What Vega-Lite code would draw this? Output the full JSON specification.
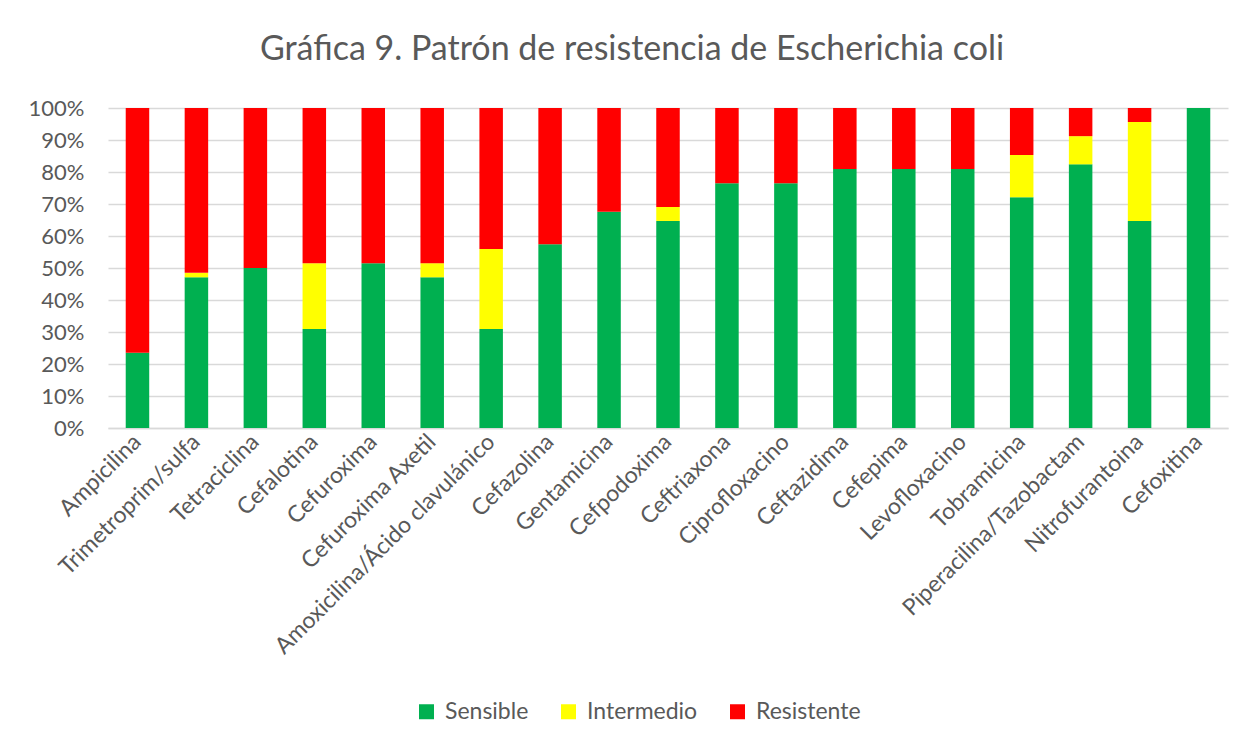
{
  "$schema": "https://vega.github.io/schema/vega-lite/v6.json",
  "autosize": "none",
  "width": 1120,
  "height": 320,
  "padding": {"left": 108, "top": 108, "right": 26, "bottom": 315},
  "background": "white",
  "title": {
    "text": "Gráfica 9. Patrón de resistencia de Escherichia coli",
    "fontSize": 34,
    "font": "Lato",
    "fontWeight": "normal",
    "color": "#595959",
    "offset": 30,
    "dx": -36
  },
  "data": {
    "values": [
      {"antibiotico": "Ampicilina", "resultado": "Sensible", "orden": 1, "pct": 0.235},
      {"antibiotico": "Ampicilina", "resultado": "Resistente", "orden": 3, "pct": 0.765},
      {"antibiotico": "Trimetroprim/sulfa", "resultado": "Sensible", "orden": 1, "pct": 0.471},
      {"antibiotico": "Trimetroprim/sulfa", "resultado": "Intermedio", "orden": 2, "pct": 0.014},
      {"antibiotico": "Trimetroprim/sulfa", "resultado": "Resistente", "orden": 3, "pct": 0.515},
      {"antibiotico": "Tetraciclina", "resultado": "Sensible", "orden": 1, "pct": 0.5},
      {"antibiotico": "Tetraciclina", "resultado": "Resistente", "orden": 3, "pct": 0.5},
      {"antibiotico": "Cefalotina", "resultado": "Sensible", "orden": 1, "pct": 0.309},
      {"antibiotico": "Cefalotina", "resultado": "Intermedio", "orden": 2, "pct": 0.206},
      {"antibiotico": "Cefalotina", "resultado": "Resistente", "orden": 3, "pct": 0.485},
      {"antibiotico": "Cefuroxima", "resultado": "Sensible", "orden": 1, "pct": 0.515},
      {"antibiotico": "Cefuroxima", "resultado": "Resistente", "orden": 3, "pct": 0.485},
      {"antibiotico": "Cefuroxima Axetil", "resultado": "Sensible", "orden": 1, "pct": 0.471},
      {"antibiotico": "Cefuroxima Axetil", "resultado": "Intermedio", "orden": 2, "pct": 0.044},
      {"antibiotico": "Cefuroxima Axetil", "resultado": "Resistente", "orden": 3, "pct": 0.485},
      {"antibiotico": "Amoxicilina/Ácido clavulánico", "resultado": "Sensible", "orden": 1, "pct": 0.309},
      {"antibiotico": "Amoxicilina/Ácido clavulánico", "resultado": "Intermedio", "orden": 2, "pct": 0.25},
      {"antibiotico": "Amoxicilina/Ácido clavulánico", "resultado": "Resistente", "orden": 3, "pct": 0.441},
      {"antibiotico": "Cefazolina", "resultado": "Sensible", "orden": 1, "pct": 0.574},
      {"antibiotico": "Cefazolina", "resultado": "Resistente", "orden": 3, "pct": 0.426},
      {"antibiotico": "Gentamicina", "resultado": "Sensible", "orden": 1, "pct": 0.676},
      {"antibiotico": "Gentamicina", "resultado": "Resistente", "orden": 3, "pct": 0.324},
      {"antibiotico": "Cefpodoxima", "resultado": "Sensible", "orden": 1, "pct": 0.647},
      {"antibiotico": "Cefpodoxima", "resultado": "Intermedio", "orden": 2, "pct": 0.044},
      {"antibiotico": "Cefpodoxima", "resultado": "Resistente", "orden": 3, "pct": 0.309},
      {"antibiotico": "Ceftriaxona", "resultado": "Sensible", "orden": 1, "pct": 0.765},
      {"antibiotico": "Ceftriaxona", "resultado": "Resistente", "orden": 3, "pct": 0.235},
      {"antibiotico": "Ciprofloxacino", "resultado": "Sensible", "orden": 1, "pct": 0.765},
      {"antibiotico": "Ciprofloxacino", "resultado": "Resistente", "orden": 3, "pct": 0.235},
      {"antibiotico": "Ceftazidima", "resultado": "Sensible", "orden": 1, "pct": 0.809},
      {"antibiotico": "Ceftazidima", "resultado": "Resistente", "orden": 3, "pct": 0.191},
      {"antibiotico": "Cefepima", "resultado": "Sensible", "orden": 1, "pct": 0.809},
      {"antibiotico": "Cefepima", "resultado": "Resistente", "orden": 3, "pct": 0.191},
      {"antibiotico": "Levofloxacino", "resultado": "Sensible", "orden": 1, "pct": 0.809},
      {"antibiotico": "Levofloxacino", "resultado": "Resistente", "orden": 3, "pct": 0.191},
      {"antibiotico": "Tobramicina", "resultado": "Sensible", "orden": 1, "pct": 0.721},
      {"antibiotico": "Tobramicina", "resultado": "Intermedio", "orden": 2, "pct": 0.132},
      {"antibiotico": "Tobramicina", "resultado": "Resistente", "orden": 3, "pct": 0.147},
      {"antibiotico": "Piperacilina/Tazobactam", "resultado": "Sensible", "orden": 1, "pct": 0.824},
      {"antibiotico": "Piperacilina/Tazobactam", "resultado": "Intermedio", "orden": 2, "pct": 0.088},
      {"antibiotico": "Piperacilina/Tazobactam", "resultado": "Resistente", "orden": 3, "pct": 0.088},
      {"antibiotico": "Nitrofurantoina", "resultado": "Sensible", "orden": 1, "pct": 0.647},
      {"antibiotico": "Nitrofurantoina", "resultado": "Intermedio", "orden": 2, "pct": 0.309},
      {"antibiotico": "Nitrofurantoina", "resultado": "Resistente", "orden": 3, "pct": 0.044},
      {"antibiotico": "Cefoxitina", "resultado": "Sensible", "orden": 1, "pct": 1.0}
    ]
  },
  "mark": {"type": "bar", "width": 23.5},
  "encoding": {
    "x": {
      "field": "antibiotico",
      "type": "nominal",
      "sort": ["Ampicilina", "Trimetroprim/sulfa", "Tetraciclina", "Cefalotina", "Cefuroxima", "Cefuroxima Axetil", "Amoxicilina/Ácido clavulánico", "Cefazolina", "Gentamicina", "Cefpodoxima", "Ceftriaxona", "Ciprofloxacino", "Ceftazidima", "Cefepima", "Levofloxacino", "Tobramicina", "Piperacilina/Tazobactam", "Nitrofurantoina", "Cefoxitina"],
      "title": null,
      "scale": {"paddingInner": 0.6, "paddingOuter": 0.3},
      "axis": {
        "labelAngle": -45,
        "labelAlign": "right",
        "labelBaseline": "middle",
        "labelFontSize": 23,
        "labelFont": "Lato",
        "labelColor": "#595959",
        "labelPadding": 10,
        "labelLimit": 600,
        "ticks": false,
        "domain": true,
        "domainColor": "#D9D9D9",
        "domainWidth": 1.5,
        "grid": false
      }
    },
    "y": {
      "field": "pct",
      "type": "quantitative",
      "stack": "zero",
      "title": null,
      "scale": {"domain": [0, 1]},
      "axis": {
        "values": [0, 0.1, 0.2, 0.3, 0.4, 0.5, 0.6, 0.7, 0.8, 0.9, 1.0],
        "format": ".0%",
        "labelFontSize": 22,
        "labelFont": "Lato",
        "labelColor": "#595959",
        "labelPadding": 24,
        "ticks": false,
        "domain": false,
        "grid": true,
        "gridColor": "#D9D9D9",
        "gridWidth": 1.5
      }
    },
    "color": {
      "field": "resultado",
      "type": "nominal",
      "scale": {"domain": ["Sensible", "Intermedio", "Resistente"], "range": ["#00B050", "#FFFF00", "#FF0000"]},
      "legend": {
        "orient": "none",
        "legendX": 307,
        "legendY": 592,
        "direction": "horizontal",
        "title": null,
        "symbolType": "square",
        "symbolSize": 225,
        "symbolStrokeWidth": 0,
        "labelFontSize": 23,
        "labelFont": "Lato",
        "labelColor": "#595959",
        "labelOffset": 7,
        "columnPadding": 28
      }
    },
    "order": {"field": "orden", "type": "quantitative"}
  },
  "config": {"view": {"stroke": null}}
}
